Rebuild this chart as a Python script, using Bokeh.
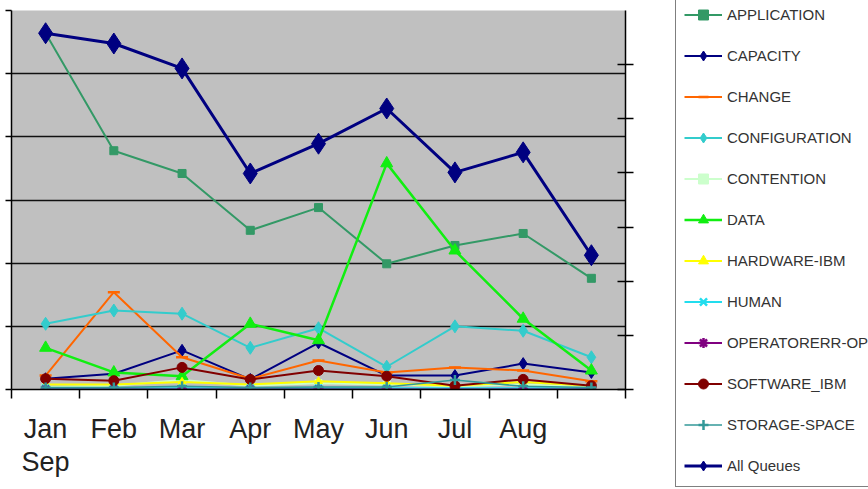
from bokeh.plotting import figure
from bokeh.models import Range1d, LinearAxis, FixedTicker, Legend, LegendItem
from bokeh.embed import file_html
from bokeh.resources import INLINE

# ---------------- data ----------------
months = ["Jan", "Feb", "Mar", "Apr", "May", "Jun", "Jul", "Aug", "Sep"]

application   = [56.4, 37.8, 34.2, 25.2, 28.8, 19.9, 22.8, 24.7, 17.6]
capacity      = [1.7, 2.5, 6.2, 1.6, 7.4, 2.2, 2.2, 4.1, 2.7]
change        = [2.2, 15.4, 5.1, 1.7, 4.6, 2.7, 3.5, 3.0, 1.3]
configuration = [10.4, 12.5, 12.0, 6.6, 9.7, 3.6, 10.0, 9.3, 5.1]
contention    = [0.4, 0.6, 1.5, 0.6, 1.0, 0.8, 0.5, 0.8, 0.4]
data_series   = [6.6, 2.7, 2.1, 10.4, 7.8, 35.8, 22.0, 11.2, 3.0]
hardware_ibm  = [0.8, 0.8, 1.2, 0.8, 1.3, 1.0, 0.6, 1.2, 0.6]
human         = [0.2, 0.2, 0.2, 0.2, 0.2, 0.2, 0.2, 0.2, 0.2]
operator_ops  = [0.0, 0.0, 0.0, 0.0, 0.0, 0.0, 0.0, 0.0, 0.0]
software_ibm  = [1.7, 1.4, 3.5, 1.6, 3.0, 2.1, 0.6, 1.6, 0.6]
storage_space = [0.3, 0.3, 0.5, 0.3, 0.4, 0.4, 1.5, 0.5, 0.3]
all_queues    = [65.8, 63.9, 59.3, 39.9, 45.4, 51.9, 40.1, 43.8, 24.8]  # secondary axis

left_ticks = [0, 10, 20, 30, 40, 50, 60]
right_ticks = [0, 10, 20, 30, 40, 50, 60]

xs = [i + 0.5 for i in range(len(months))]
boundaries = list(range(len(months) + 1))

series = [
    ("APPLICATION",     application,   "#339966", "square",   8,  2.0, None),
    ("CAPACITY",        capacity,      "#000080", "diamond",  12, 2.0, None),
    ("CHANGE",          change,        "#FF6600", "dash",     12, 2.0, None),
    ("CONFIGURATION",   configuration, "#33CCCC", "diamond",  13, 2.0, None),
    ("CONTENTION",      contention,    "#CCFFCC", "square",   7,  2.0, None),
    ("DATA",            data_series,   "#11EE11", "triangle", 12, 2.5, None),
    ("HARDWARE-IBM",    hardware_ibm,  "#FFFF00", "triangle", 8,  2.0, None),
    ("HUMAN",           human,         "#22DDEE", "x",        10, 2.0, None),
    ("OPERATORERR-OPS", operator_ops,  "#800080", "asterisk", 10, 2.0, None),
    ("SOFTWARE_IBM",    software_ibm,  "#800000", "circle",   10, 2.0, None),
    ("STORAGE-SPACE",   storage_space, "#339999", "cross",    10, 1.5, None),
    ("All Queues",      all_queues,    "#000080", "diamond",  21, 3.0, "right"),
]

p = figure(
    frame_width=614, frame_height=379,
    x_range=Range1d(0, len(months)), y_range=Range1d(0, 60),
    output_backend="svg", toolbar_location=None,
    min_border_left=11, min_border_top=10, min_border_bottom=84, min_border_right=0,
)
p.extra_y_ranges = {"right": Range1d(0, 70)}
p.background_fill_color = "#C0C0C0"
p.border_fill_color = "white"
p.outline_line_color = None

overrides = {xs[i]: months[i] for i in range(1, len(months) - 1)}
overrides[xs[0]] = months[0] + "\n" + months[-1]
xax = p.xaxis[0]
xax.ticker = FixedTicker(ticks=xs[:-1], minor_ticks=boundaries)
xax.major_label_overrides = overrides
xax.major_tick_line_color = None
xax.major_tick_out = 9
xax.major_tick_in = 0
xax.minor_tick_out = 9
xax.minor_tick_in = 0
xax.minor_tick_line_color = "black"
xax.minor_tick_line_width = 1.5
xax.major_label_standoff = 15
xax.major_label_text_font = "Liberation Sans"
xax.major_label_text_font_size = "27px"
xax.major_label_text_color = "#222222"
xax.major_label_text_line_height = 1.1
xax.axis_line_color = "black"
xax.axis_line_width = 1.5

yax = p.yaxis[0]
yax.ticker = FixedTicker(ticks=left_ticks)
yax.major_tick_out = 6
yax.major_tick_in = 0
yax.minor_tick_line_color = None
yax.major_label_text_font_size = "0px"
yax.major_label_standoff = 0
yax.axis_line_color = "black"
yax.axis_line_width = 1.5
yax.major_tick_line_width = 1.5

raxis = LinearAxis(y_range_name="right", ticker=FixedTicker(ticks=right_ticks))
raxis.major_tick_in = 8
raxis.major_tick_out = 8
raxis.minor_tick_line_color = None
raxis.major_label_text_font_size = "0px"
raxis.major_label_standoff = 0
raxis.axis_line_color = "black"
raxis.axis_line_width = 1.5
raxis.major_tick_line_width = 1.5
p.add_layout(raxis, "right")

p.xgrid.visible = False
p.ygrid.grid_line_color = "#111111"
p.ygrid.grid_line_width = 1.5

items = []
for name, vals, color, marker, size, lw, rng in series:
    kw = {"y_range_name": rng} if rng else {}
    lr = p.line(xs, vals, line_color=color, line_width=lw, **kw)
    mk = dict(marker=marker, size=size, line_color=color, fill_color=color, **kw)
    if marker in ("dash", "x", "asterisk", "cross"):
        mk["line_width"] = 2.5
    sr = p.scatter(xs, vals, **mk)
    items.append(LegendItem(label=name, renderers=[lr, sr]))

legend = Legend(
    items=items, location=(-189, -98),
    label_text_font="Liberation Sans", label_text_font_size="15px",
    label_text_color="#333333",
    glyph_width=38, glyph_height=25, label_height=25, spacing=16,
    padding=8, margin=0, label_standoff=5,
    border_line_color="black", border_line_width=1,
    background_fill_color="white", background_fill_alpha=1.0,
)
p.add_layout(legend, "right")

open("out.html", "w").write(file_html(p, INLINE))
